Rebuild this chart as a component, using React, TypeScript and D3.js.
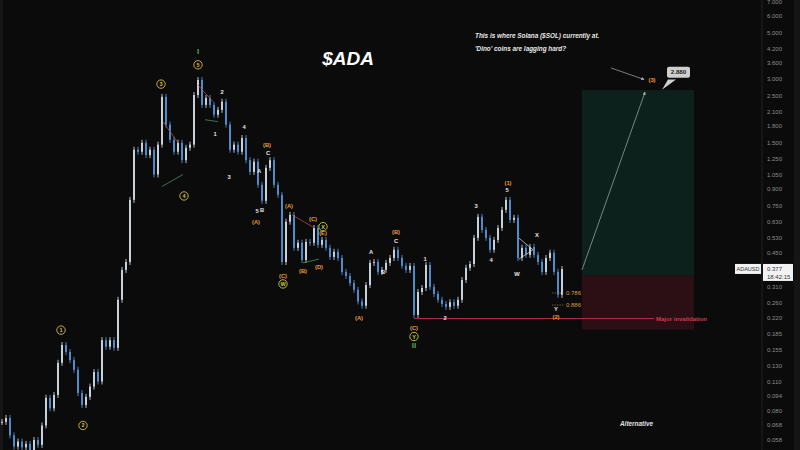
import * as d3 from 'd3';
import React from 'react';

// ADAUSD closes, one every candle slot (open = previous close)
const closes = [
  0.0707, 0.0738, 0.061, 0.054, 0.057, 0.0535, 0.0556, 0.052, 0.058, 0.055,
  0.068, 0.092, 0.082, 0.095, 0.135, 0.164, 0.152, 0.139, 0.125, 0.097,
  0.085, 0.093, 0.104, 0.122, 0.11, 0.173, 0.161, 0.173, 0.159, 0.269,
  0.373, 0.407, 0.803, 1.39, 1.36, 1.5, 1.31, 1.39, 1.06, 1.47,
  2.48, 1.83, 1.55, 1.36, 1.5, 1.24, 1.42, 1.47, 2.53, 2.98,
  2.27, 2.45, 2.27, 2.04, 2.15, 2.35, 1.83, 1.39, 1.47, 1.36,
  1.58, 1.24, 1.09, 1.22, 0.947, 0.795, 1.14, 1.24, 0.947, 0.848,
  0.407, 0.632, 0.681, 0.475, 0.502, 0.416, 0.507, 0.502, 0.59, 0.491,
  0.518, 0.475, 0.43, 0.455, 0.425, 0.365, 0.349, 0.323, 0.3, 0.264,
  0.252, 0.316, 0.403, 0.407, 0.365, 0.373, 0.403, 0.425, 0.465, 0.425,
  0.39, 0.373, 0.39, 0.228, 0.293, 0.306, 0.394, 0.31, 0.287, 0.269,
  0.257, 0.249, 0.262, 0.252, 0.269, 0.334, 0.382, 0.398, 0.53, 0.667,
  0.578, 0.53, 0.465, 0.518, 0.59, 0.72, 0.803, 0.645, 0.66, 0.425,
  0.475, 0.44, 0.48, 0.44, 0.407, 0.365, 0.425, 0.45, 0.365, 0.284,
  0.377,
];

const priceTicks = [
  7, 6, 5, 4.2, 3.6, 3, 2.5, 2.1, 1.8, 1.5, 1.25, 1.05, 0.9, 0.75, 0.63, 0.53,
  0.45, 0.31, 0.26, 0.22, 0.185, 0.155, 0.13, 0.11, 0.094, 0.08, 0.068, 0.058,
];

// [text, candle index, price, kind]
const waveLabels: [string, number, number, string][] = [
  ['1', 14.75, 0.193, 'circ'],
  ['2', 20.25, 0.068, 'circ'],
  ['3', 39.75, 2.85, 'circ'],
  ['4', 45.5, 0.838, 'circ'],
  ['5', 49, 3.52, 'circ'],
  ['I', 49, 4.05, 'green'],
  ['1', 53.25, 1.66, 'white'],
  ['2', 55, 2.61, 'white'],
  ['3', 56.75, 1.03, 'white'],
  ['4', 60.5, 1.78, 'white'],
  ['5', 63.75, 0.712, 'white'],
  ['B', 65, 0.715, 'white'],
  ['(A)', 63.5, 0.632, 'orange'],
  ['A', 64.25, 1.1, 'white'],
  ['C', 66.5, 1.34, 'white'],
  ['(B)', 66.25, 1.46, 'orange'],
  ['(A)', 71.75, 0.752, 'orange'],
  ['(C)', 77.75, 0.652, 'orange'],
  ['X', 80.25, 0.599, 'circW'],
  ['(E)', 80.25, 0.56, 'orange'],
  ['(D)', 79.25, 0.386, 'orange'],
  ['(B)', 75.25, 0.369, 'orange'],
  ['(C)', 70.25, 0.349, 'orange'],
  ['W', 70.25, 0.32, 'circW'],
  ['(A)', 89.25, 0.22, 'orange'],
  ['A', 92.25, 0.455, 'white'],
  ['B', 95.25, 0.365, 'white'],
  ['C', 98.5, 0.513, 'white'],
  ['(B)', 98.5, 0.565, 'orange'],
  ['1', 105.75, 0.42, 'white'],
  ['2', 110.75, 0.22, 'white'],
  ['(C)', 103, 0.197, 'orange'],
  ['Y', 103, 0.18, 'circW'],
  ['II', 103, 0.162, 'green'],
  ['3', 118.5, 0.752, 'white'],
  ['4', 122.25, 0.416, 'white'],
  ['5', 126.25, 0.896, 'white'],
  ['(1)', 126.5, 0.97, 'orange'],
  ['X', 133.75, 0.547, 'white'],
  ['W', 128.75, 0.357, 'white'],
  ['Y', 138.5, 0.244, 'white'],
  ['(2)', 138.5, 0.223, 'orange'],
  ['(3)', 162.5, 2.98, 'orange'],
];

// [i1, p1, i2, p2, colour]
const trendLines: [number, number, number, number, string][] = [
  [40.25, 1.89, 44, 1.5, '#b8443c'],
  [40, 0.93, 45.25, 1.06, '#4f8a5c'],
  [49, 2.82, 52.75, 2.35, '#b8443c'],
  [50.75, 1.93, 54, 1.89, '#4f8a5c'],
  [72.5, 0.681, 78, 0.593, '#b8443c'],
  [75.25, 0.403, 79.25, 0.42, '#4f8a5c'],
  [129.25, 0.528, 132.75, 0.465, '#c8c8c8'],
  [129.25, 0.42, 132.75, 0.465, '#c8c8c8'],
];

const fibLevels: [string, number][] = [
  ['0.786', 0.29],
  ['0.886', 0.254],
];

const zone = { i1: 145, i2: 173, target: 2.67, entry: 0.35, stop: 0.194 };
const invalidation = { i1: 103, i2: 163, price: 0.219 };
const lastPrice = 0.377;

const W = 800;
const H = 450;

export default function App() {
  const x = d3.scaleLinear().domain([0, 140]).range([2, 562]);
  const y = d3.scaleLog().domain([7, 0.058]).range([2, 440]);
  const font = "'Liberation Sans', Arial, sans-serif";
  const axisX = 762;

  const labelColor: Record<string, string> = {
    white: '#e6e6e6',
    orange: '#e89a3c',
    green: '#4caf50',
    circ: '#d8be45',
    circW: '#c9cf3c',
  };

  return (
    <svg
      width={W}
      height={H}
      style={{ position: 'absolute', left: 0, top: 0, background: '#0b0b0b' }}
      fontFamily={font}
    >
      <rect x={0} y={0} width={W} height={H} fill="#0b0b0b" />
      <rect x={0} y={0} width={3} height={H} fill="#161616" />

      {/* trade zones */}
      <rect
        x={x(zone.i1)}
        y={y(zone.target)}
        width={x(zone.i2) - x(zone.i1)}
        height={y(zone.entry) - y(zone.target)}
        fill="#0c211b"
      />
      <rect
        x={x(zone.i1)}
        y={y(zone.entry)}
        width={x(zone.i2) - x(zone.i1)}
        height={y(zone.stop) - y(zone.entry)}
        fill="#2c0f15"
      />

      {/* invalidation line */}
      <line
        x1={x(invalidation.i1)}
        x2={x(invalidation.i2)}
        y1={y(invalidation.price)}
        y2={y(invalidation.price)}
        stroke="#b83442"
        strokeWidth={1}
      />
      <text
        x={x(invalidation.i2) + 2}
        y={y(invalidation.price) + 2.5}
        fontSize={6}
        fontWeight="bold"
        fill="#d23a46"
      >
        Major invalidation
      </text>

      {/* candles */}
      {closes.map((c, i) => {
        const o = i === 0 ? c : closes[i - 1];
        const up = c >= o;
        const top = y(Math.max(o, c));
        const bot = y(Math.min(o, c));
        const col = up ? '#e2ebf6' : '#5a9ee6';
        return (
          <g key={i}>
            <line x1={x(i)} x2={x(i)} y1={top - 3} y2={bot + 3} stroke={col} strokeWidth={0.8} />
            <rect x={x(i) - 0.8} y={top} width={1.6} height={Math.max(1, bot - top)} fill={col} />
          </g>
        );
      })}

      {/* trend lines */}
      {trendLines.map(([i1, p1, i2, p2, c], k) => (
        <line key={k} x1={x(i1)} y1={y(p1)} x2={x(i2)} y2={y(p2)} stroke={c} strokeWidth={0.8} />
      ))}

      {/* fib levels */}
      {fibLevels.map(([t, p]) => (
        <g key={t}>
          <line x1={x(137.5)} x2={x(140.5)} y1={y(p)} y2={y(p)} stroke="#9a7a40" strokeWidth={0.7} strokeDasharray="1.5,1" />
          <text x={x(141)} y={y(p) + 2} fontSize={6} fill="#d89a48">
            {t}
          </text>
        </g>
      ))}

      {/* projection arrows */}
      <defs>
        <marker id="ah" viewBox="0 0 6 6" refX={5} refY={3} markerWidth={5} markerHeight={5} orient="auto">
          <path d="M0,0 L6,3 L0,6 z" fill="#a8adb3" />
        </marker>
      </defs>
      <line x1={x(145)} y1={y(0.373)} x2={x(160.75)} y2={y(2.61)} stroke="#a8adb3" strokeWidth={0.7} markerEnd="url(#ah)" />
      <line x1={x(152.25)} y1={y(3.4)} x2={x(160.5)} y2={y(3.0)} stroke="#a8adb3" strokeWidth={0.7} markerEnd="url(#ah)" />

      {/* 2.880 callout */}
      <g>
        <path d={`M${x(166.5)},${y(3.0)} L${x(165)},${y(2.68)} L${x(168.5)},${y(3.0)} z`} fill="#cfcfcf" />
        <rect x={x(166.25)} y={y(3.45)} width={23} height={11} rx={2} fill="#cfcfcf" />
        <text x={x(166.25) + 11.5} y={y(3.45) + 7.8} fontSize={6.2} fontWeight="bold" textAnchor="middle" fill="#222">
          2.880
        </text>
      </g>

      {/* wave labels */}
      {waveLabels.map(([t, i, p, kind], k) => {
        const cx = x(i);
        const cy = y(p);
        const col = labelColor[kind];
        if (kind === 'circ' || kind === 'circW') {
          return (
            <g key={k}>
              <circle cx={cx} cy={cy} r={4.2} fill="#0b0b0b" stroke={col} strokeWidth={0.9} />
              <text x={cx} y={cy + 2} fontSize={5.5} fontWeight="bold" textAnchor="middle" fill={col}>
                {t}
              </text>
            </g>
          );
        }
        return (
          <text
            key={k}
            x={cx}
            y={cy + 2}
            fontSize={kind === 'green' ? 8 : 5.8}
            fontWeight="bold"
            textAnchor="middle"
            fill={col}
          >
            {t}
          </text>
        );
      })}

      {/* free text */}
      <text x={348} y={65} fontSize={19} fontWeight="bold" fontStyle="italic" fill="#ffffff" textAnchor="middle">
        $ADA
      </text>
      <text x={475} y={38} fontSize={6.4} fontWeight="bold" fontStyle="italic" fill="#e8e8e8">
        This is where Solana ($SOL) currently at.
      </text>
      <text x={475} y={51} fontSize={6.4} fontWeight="bold" fontStyle="italic" fill="#e8e8e8">
        'Dino' coins are lagging hard?
      </text>
      <text x={620} y={426} fontSize={6.4} fontWeight="bold" fontStyle="italic" fill="#e0e0e0">
        Alternative
      </text>

      {/* price axis */}
      <line x1={axisX} x2={axisX} y1={0} y2={H} stroke="#222" strokeWidth={1} />
      <rect x={794} y={0} width={6} height={H} fill="#151515" />
      {priceTicks.map(t => (
        <text key={t} x={767} y={y(t) + 2} fontSize={6} fill="#8c8c8c">
          {t.toFixed(3)}
        </text>
      ))}
      <rect x={735} y={y(lastPrice) - 5} width={26} height={10} fill="#f2f2f2" />
      <text x={748} y={y(lastPrice) + 2} fontSize={5.5} textAnchor="middle" fill="#333">
        ADAUSD
      </text>
      <rect x={763} y={y(lastPrice) - 5} width={30} height={17} fill="#f2f2f2" />
      <text x={767} y={y(lastPrice) + 2} fontSize={6} fill="#333">
        {lastPrice.toFixed(3)}
      </text>
      <text x={767} y={y(lastPrice) + 10} fontSize={6} fill="#333">
        18:42:15
      </text>
    </svg>
  );
}
